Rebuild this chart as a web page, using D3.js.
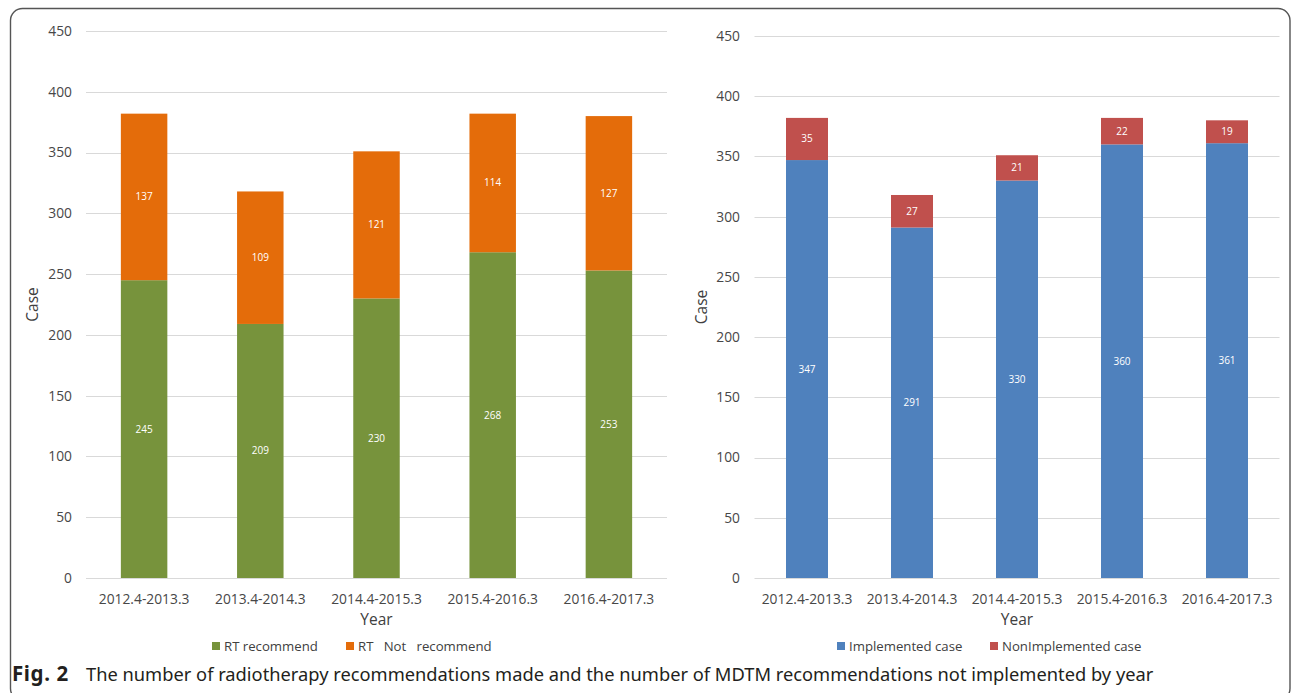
<!DOCTYPE html>
<html>
<head>
<meta charset="utf-8">
<script src="https://cdn.jsdelivr.net/npm/d3@7/dist/d3.min.js"></script>
<style>
  html, body { margin: 0; padding: 0; background: #fff; }
  svg { display: block; }
  text { font-family: "Open Sans", "Noto Sans", sans-serif; }
</style>
</head>
<body>
<svg id="chart" width="1292" height="693"></svg>
<script>
// ---- data ----
const categories = ["2012.4-2013.3", "2013.4-2014.3", "2014.4-2015.3", "2015.4-2016.3", "2016.4-2017.3"];
const rtRecommend = [245, 209, 230, 268, 253];
const rtNotRecommend = [137, 109, 121, 114, 127];
const implemented = [347, 291, 330, 360, 361];
const nonImplemented = [35, 27, 21, 22, 19];
const yTicks = [0, 50, 100, 150, 200, 250, 300, 350, 400, 450];
const leftSeriesNames = ["RT recommend", "RT\u00a0\u00a0\u00a0Not\u00a0\u00a0\u00a0recommend"];
const rightSeriesNames = ["Implemented case", "NonImplemented case"];
const captionBold = "Fig. 2";
const captionText = "The number of radiotherapy recommendations made and the number of MDTM recommendations not implemented by year";

const svg = d3.select("#chart");
const TXT = "#474747";

// frame
svg.append("rect")
  .attr("x", 10.5).attr("y", 8.5).attr("width", 1279.5).attr("height", 692)
  .attr("rx", 12).attr("ry", 12)
  .attr("fill", "none").attr("stroke", "#555").attr("stroke-width", 1.4);

function drawPanel(cfg) {
  const g = svg.append("g");
  const x = d3.scaleBand().domain(categories).range([cfg.x0, cfg.x1])
    .paddingInner(0.6).paddingOuter(0.3);
  const y = d3.scaleLinear().domain([0, 450]).range([cfg.yBottom, cfg.yTop]);

  // gridlines
  g.append("g").selectAll("line").data(yTicks).join("line")
    .attr("x1", cfg.x0).attr("x2", cfg.x1)
    .attr("y1", d => Math.round(y(d)) + 0.5).attr("y2", d => Math.round(y(d)) + 0.5)
    .attr("stroke", "#d9d9d9").attr("stroke-width", 1);

  // y axis labels
  const yAxis = d3.axisLeft(y).tickValues(yTicks).tickSize(0).tickPadding(0);
  const ya = g.append("g").attr("transform", `translate(${cfg.yLabelX},0)`).call(yAxis);
  ya.select(".domain").remove();
  ya.selectAll("text").attr("fill", TXT).style("font-size", "13.8px")
    .style("font-family", "'Open Sans', sans-serif");

  // x axis labels
  const xAxis = d3.axisBottom(x).tickSize(0).tickPadding(0);
  const xa = g.append("g").attr("transform", `translate(0,${cfg.xLabelY})`).call(xAxis);
  xa.select(".domain").remove();
  xa.selectAll("text").attr("fill", TXT).style("font-size", "13.8px")
    .style("font-family", "'Open Sans', sans-serif").attr("dy", "0.35em").attr("y", 0);

  // stacked bars
  const rows = categories.map((c, i) => ({ cat: c, a: cfg.bottom[i], b: cfg.top[i] }));
  const stack = d3.stack().keys(["a", "b"])(rows);
  const colors = [cfg.colA, cfg.colB];
  stack.forEach((layer, li) => {
    const lg = g.append("g");
    lg.selectAll("rect").data(layer).join("rect")
      .attr("x", d => x(d.data.cat))
      .attr("width", x.bandwidth())
      .attr("y", d => y(d[1]))
      .attr("height", d => y(d[0]) - y(d[1]))
      .attr("fill", colors[li]);
    lg.selectAll("text").data(layer).join("text")
      .attr("x", d => x(d.data.cat) + x.bandwidth() / 2)
      .attr("y", d => (y(d[0]) + y(d[1])) / 2)
      .attr("dy", "0.35em")
      .attr("text-anchor", "middle")
      .attr("fill", "#fff")
      .style("font-size", "10px")
      .text(d => d[1] - d[0]);
  });

  // axis titles
  g.append("text")
    .attr("transform", `translate(${cfg.yTitleX},${(cfg.yBottom + cfg.yTop) / 2}) rotate(-90)`)
    .attr("text-anchor", "middle").attr("dy", "0.35em")
    .attr("fill", "#404040").style("font-size", "15.5px").text("Case");
  g.append("text")
    .attr("x", (cfg.x0 + cfg.x1) / 2).attr("y", cfg.xTitleY).attr("dy", "0.35em")
    .attr("text-anchor", "middle").attr("fill", "#404040").style("font-size", "15.5px").text("Year");

  // legend
  const lgd = g.append("g");
  cfg.legend.forEach((L, i) => {
    lgd.append("rect").attr("x", L.x).attr("y", cfg.legendY - 4).attr("width", 8).attr("height", 8)
      .attr("fill", colors[i]);
    lgd.append("text").attr("x", L.x + 12).attr("y", cfg.legendY).attr("dy", "0.35em")
      .attr("fill", "#404040").style("font-size", "13.2px").text(cfg.names[i]);
  });
}

drawPanel({
  x0: 86, x1: 667, yTop: 31, yBottom: 578, yLabelX: 72, xLabelY: 599,
  yTitleX: 33, xTitleY: 620, legendY: 646,
  bottom: rtRecommend, top: rtNotRecommend, colA: "#77933c", colB: "#e46c0a",
  names: leftSeriesNames, legend: [{ x: 212 }, { x: 346 }]
});
drawPanel({
  x0: 754.5, x1: 1279.5, yTop: 36, yBottom: 578, yLabelX: 740, xLabelY: 599,
  yTitleX: 702, xTitleY: 620, legendY: 646,
  bottom: implemented, top: nonImplemented, colA: "#4f81bd", colB: "#c0504d",
  names: rightSeriesNames, legend: [{ x: 837 }, { x: 990 }]
});

// caption
const cap = svg.append("text").attr("x", 12).attr("y", 681)
  .attr("fill", "#231f20").style("font-size", "18.3px").style("font-family", "'Noto Sans', 'Open Sans', sans-serif");
cap.append("tspan").attr("font-weight", "bold").style("font-size", "20.5px")
  .style("letter-spacing", "0.6px").text(captionBold);
cap.append("tspan").attr("x", 86).text(captionText);
</script>
</body>
</html>
